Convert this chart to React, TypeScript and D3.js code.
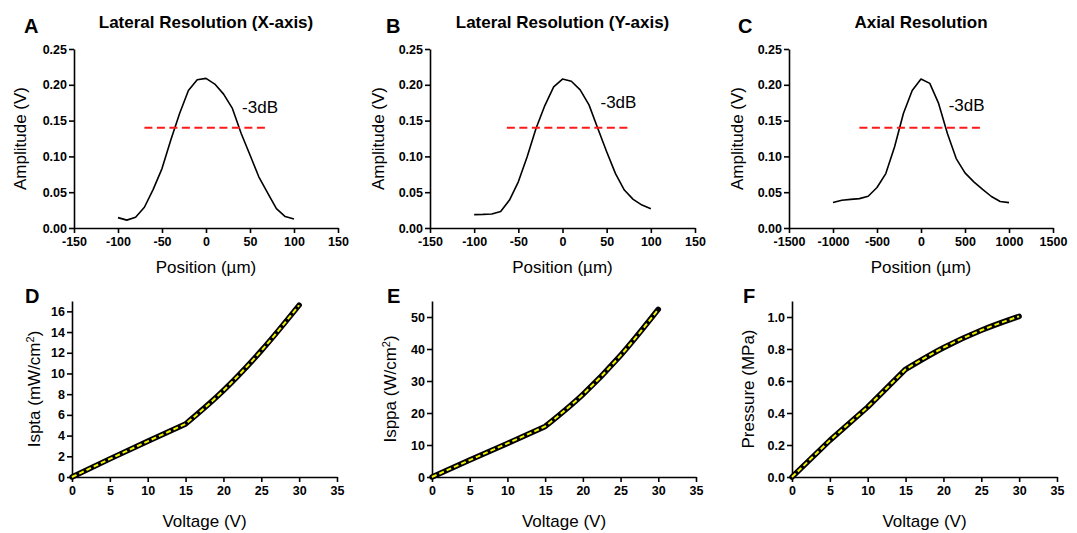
import * as d3 from "d3";
import { useRef, useEffect } from "react";

// Top row: amplitude vs position
const latXPos = [-100, -90, -80, -70, -60, -50, -40, -30, -20, -10, 0, 10, 20, 30, 40, 50, 60, 70, 80, 90, 100];
const latXAmp = [0.0145, 0.011, 0.015, 0.029, 0.054, 0.083, 0.123, 0.160, 0.192, 0.207, 0.209, 0.201, 0.187, 0.167, 0.132, 0.102, 0.0715, 0.049, 0.027, 0.016, 0.0126];

const latYPos = [-100, -90, -80, -70, -60, -50, -40, -30, -20, -10, 0, 10, 20, 30, 40, 50, 60, 70, 80, 90, 100];
const latYAmp = [0.0187, 0.019, 0.0196, 0.023, 0.039, 0.0645, 0.0995, 0.139, 0.171, 0.197, 0.208, 0.205, 0.193, 0.172, 0.139, 0.1065, 0.076, 0.053, 0.040, 0.032, 0.027];

const axialPos = [-1000, -900, -800, -700, -600, -500, -400, -300, -200, -100, 0, 100, 200, 300, 400, 500, 600, 700, 800, 900, 1000];
const axialAmp = [0.0355, 0.0388, 0.040, 0.041, 0.0444, 0.0565, 0.076, 0.1135, 0.160, 0.192, 0.208, 0.202, 0.174, 0.132, 0.097, 0.077, 0.0645, 0.054, 0.044, 0.037, 0.0355];

// -3dB markers: [xStart, xEnd], level, text position
const dbLevel = 0.14;
const dbRangeA = [-70, 70];
const dbRangeB = [-63, 77];
const dbRangeC = [-700, 700];
const dbTextA = [41, 0.161];
const dbTextB = [43, 0.168];
const dbTextC = [314, 0.163];

// Bottom row: vs voltage
const voltage = [0, 5, 10, 15, 20, 25, 30];
const ispta = [0, 1.75, 3.45, 5.12, 8.35, 12.2, 16.6];
const isppa = [0, 5.3, 10.5, 15.8, 25.8, 38.0, 52.4];
const pressure = [0, 0.229, 0.4375, 0.673, 0.808, 0.917, 1.004];

const topYTicks = [0, 0.05, 0.1, 0.15, 0.2, 0.25];
const umTicks = [-150, -100, -50, 0, 50, 100, 150];
const axialTicks = [-1500, -1000, -500, 0, 500, 1000, 1500];
const voltTicks = [0, 5, 10, 15, 20, 25, 30, 35];
const isptaTicks = [0, 2, 4, 6, 8, 10, 12, 14, 16];
const isppaTicks = [0, 10, 20, 30, 40, 50];
const pressureTicks = [0, 0.2, 0.4, 0.6, 0.8, 1.0];

const FONT = "'Liberation Sans', Arial, Helvetica, sans-serif";

function drawAxes(g, x, y, xTicks, yTicks, yFmt) {
    const xAxis = g.append("g")
        .attr("transform", `translate(0,${y.range()[0]})`)
        .call(d3.axisBottom(x).tickValues(xTicks).tickSize(5).tickSizeOuter(0).tickPadding(4).tickFormat(d => String(d)));
    const yAxis = g.append("g")
        .attr("transform", `translate(${x.range()[0]},0)`)
        .call(d3.axisLeft(y).tickValues(yTicks).tickSize(5).tickSizeOuter(0).tickPadding(2).tickFormat(yFmt));
    [xAxis, yAxis].forEach(a => {
        a.attr("font-family", FONT).attr("font-size", 12.5).attr("font-weight", "bold");
        a.selectAll("path, line").attr("stroke", "#000").attr("stroke-width", 1.6);
        a.selectAll("text").attr("fill", "#000");
    });
}

function label(g, txt, x, y, size, weight, anchor = "middle") {
    return g.append("text")
        .attr("x", x).attr("y", y)
        .attr("font-family", FONT).attr("font-size", size).attr("font-weight", weight)
        .attr("text-anchor", anchor).attr("fill", "#000")
        .text(txt);
}

export default function App() {
    const ref = useRef(null);

    useEffect(() => {
        document.body.style.margin = "0";
        const svg = d3.select(ref.current);
        svg.selectAll("*").remove();

        // ---- top row
        const topPanels = [
            { letter: "A", lx: 24, title: "Lateral Resolution (X-axis)", xr: [74, 338], dom: [-150, 150], ticks: umTicks,
              xs: latXPos, ys: latXAmp, db: dbRangeA, dbt: dbTextA, yl: 26 },
            { letter: "B", lx: 386, title: "Lateral Resolution (Y-axis)", xr: [430, 695], dom: [-150, 150], ticks: umTicks,
              xs: latYPos, ys: latYAmp, db: dbRangeB, dbt: dbTextB, yl: 384 },
            { letter: "C", lx: 738, title: "Axial Resolution", xr: [789, 1053], dom: [-1500, 1500], ticks: axialTicks,
              xs: axialPos, ys: axialAmp, db: dbRangeC, dbt: dbTextC, yl: 743 },
        ];

        topPanels.forEach(p => {
            const g = svg.append("g");
            const x = d3.scaleLinear().domain(p.dom).range(p.xr);
            const y = d3.scaleLinear().domain([0, 0.25]).range([228, 49]);
            drawAxes(g, x, y, p.ticks, topYTicks, d3.format(".2f"));

            const pts = p.xs.map((v, i) => [v, p.ys[i]]);
            g.append("path")
                .attr("d", d3.line().x(d => x(d[0])).y(d => y(d[1]))(pts))
                .attr("fill", "none").attr("stroke", "#000").attr("stroke-width", 1.6)
                .attr("stroke-linejoin", "round");

            g.append("line")
                .attr("x1", x(p.db[0])).attr("x2", x(p.db[1]))
                .attr("y1", y(dbLevel)).attr("y2", y(dbLevel))
                .attr("stroke", "#ff1a1a").attr("stroke-width", 2)
                .attr("stroke-dasharray", "8,4.5");

            label(g, "-3dB", x(p.dbt[0]), y(p.dbt[1]), 17, "normal", "start");

            const cx = (p.xr[0] + p.xr[1]) / 2;
            label(g, p.title, cx, 28, 17, "bold");
            label(g, p.letter, p.lx, 33, 20, "bold", "start");
            label(g, "Position (µm)", cx, 273, 17, "normal");
            label(g, "Amplitude (V)", 0, 0, 17, "normal")
                .attr("transform", `translate(${p.yl},${(228 + 49) / 2}) rotate(-90)`);
        });

        // ---- bottom row
        const botPanels = [
            { letter: "D", lx: 25, xr: [72, 337], ymax: 17, ticks: isptaTicks, ys: ispta, fmt: d3.format("d"),
              yl: ["Ispta (mW/cm", ")"], ylx: 40 },
            { letter: "E", lx: 387, xr: [432, 696], ymax: 55, ticks: isppaTicks, ys: isppa, fmt: d3.format("d"),
              yl: ["Isppa (W/cm", ")"], ylx: 396 },
            { letter: "F", lx: 743, xr: [792, 1057], ymax: 1.1, ticks: pressureTicks, ys: pressure, fmt: d3.format(".1f"),
              yl: ["Pressure (MPa)"], ylx: 754 },
        ];

        botPanels.forEach(p => {
            const g = svg.append("g");
            const x = d3.scaleLinear().domain([0, 35]).range(p.xr);
            const y = d3.scaleLinear().domain([0, p.ymax]).range([477, 301]);
            drawAxes(g, x, y, voltTicks, p.ticks, p.fmt);

            // straight up to 15 V, smooth after the knee
            const pts = voltage.map((v, i) => [v, p.ys[i]]);
            const knee = voltage.indexOf(15);
            const path = d3.path();
            d3.line().x(d => x(d[0])).y(d => y(d[1])).context(path)(pts.slice(0, knee + 1));
            const path2 = d3.path();
            d3.line().x(d => x(d[0])).y(d => y(d[1])).curve(d3.curveMonotoneX).context(path2)(pts.slice(knee));
            const dStr = path.toString() + path2.toString().replace(/^M[^LC]*/, "L" + x(pts[knee][0]) + "," + y(pts[knee][1]));

            g.append("path")
                .attr("d", dStr)
                .attr("fill", "none").attr("stroke", "#000").attr("stroke-width", 5.5)
                .attr("stroke-linecap", "round").attr("stroke-linejoin", "round");
            g.append("path")
                .attr("d", dStr)
                .attr("fill", "none").attr("stroke", "#f2f200").attr("stroke-width", 2)
                .attr("stroke-dasharray", "5,3");

            const cx = (p.xr[0] + p.xr[1]) / 2;
            label(g, p.letter, p.lx, 303, 20, "bold", "start");
            label(g, "Voltage (V)", cx, 527, 17, "normal");

            const yt = label(g, "", 0, 0, 17, "normal")
                .attr("transform", `translate(${p.ylx},${(477 + 301) / 2}) rotate(-90)`);
            yt.append("tspan").text(p.yl[0]);
            if (p.yl.length > 1) {
                yt.append("tspan").attr("font-size", 11).attr("dy", -6).text("2");
                yt.append("tspan").attr("dy", 6).text(p.yl[1]);
            }
        });
    }, []);

    return (
        <div style={{ position: "absolute", left: 0, top: 0 }}>
            <svg ref={ref} width={1077} height={533} style={{ display: "block", background: "#fff" }} />
        </div>
    );
}
